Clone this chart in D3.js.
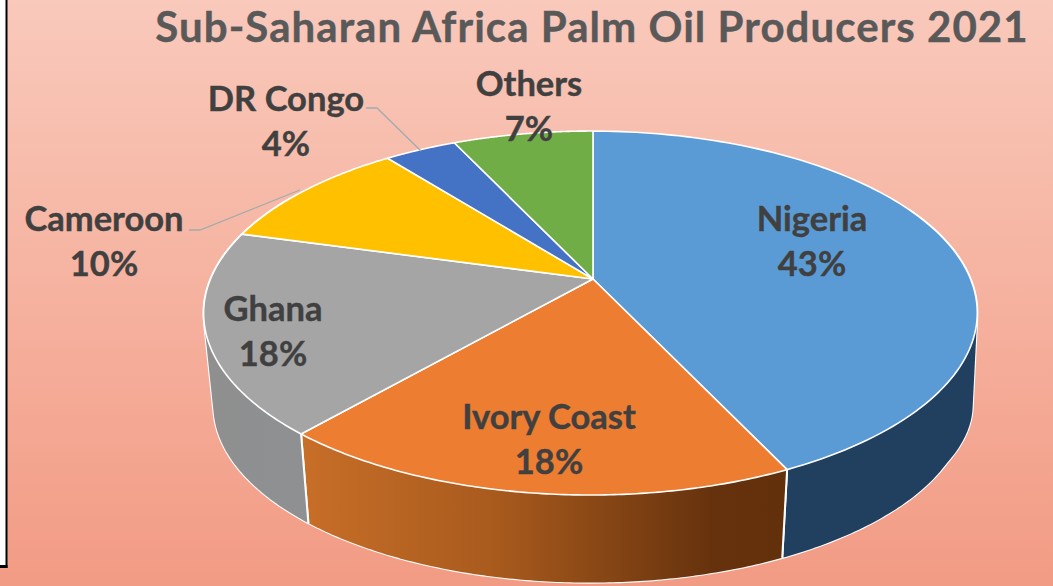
<!DOCTYPE html>
<html>
<head>
<meta charset="utf-8">
<script src="https://cdn.jsdelivr.net/npm/d3@7"></script>
<style>
    html, body { margin: 0; padding: 0; background: #fff; overflow: hidden; }
    text { font-family: Lato, "Open Sans", sans-serif; font-weight: 700; }
</style>
</head>
<body>
<div id="chart"></div>
<script>
// Chart values
const chartTitle = "Sub-Saharan Africa Palm Oil Producers 2021";
const countries = ["Nigeria", "Ivory Coast", "Ghana", "Cameroon", "DR Congo", "Others"];
const shares = [43.0, 18.4, 17.9, 10.1, 3.6, 7.0];
const shareLabels = ["43%", "18%", "18%", "10%", "4%", "7%"];
const topColors = ["#5b9bd5", "#ed7d31", "#a5a5a5", "#ffc000", "#4472c4", "#70ad47"];

const width = 1053;
const height = 586;

// Label layout, same order as countries
const labelX = [812, 549, 273, 104, 286, 529];
const labelY = [219, 417, 309, 219, 99, 84];

// Perspective of the pie: k squeezes the far side, m leans it a little left
const k = 0.187;
const m = -0.0065;
const apex = { x: 593, y: 279 };
const rx = 380, ry = 175.6;
const wallScale = 0.975;
const wallApexY = 372;

let svg = d3.select("#chart")
    .append("svg")
    .attr("width", width)
    .attr("height", height)
    .style("display", "block");

let defs = svg.append("defs");

let bgGrad = defs.append("linearGradient")
    .attr("id", "bg")
    .attr("x1", 0).attr("y1", 0).attr("x2", 0).attr("y2", 1);
bgGrad.append("stop").attr("offset", 0).attr("stop-color", "#f9c9bb");
bgGrad.append("stop").attr("offset", 1).attr("stop-color", "#f29b84");

// Orange wall goes from lit to dark
let orangeGrad = defs.append("linearGradient")
    .attr("id", "wallOrange")
    .attr("gradientUnits", "userSpaceOnUse")
    .attr("x1", 305).attr("y1", 0).attr("x2", 785).attr("y2", 0);
orangeGrad.append("stop").attr("offset", 0).attr("stop-color", "#c76e28");
orangeGrad.append("stop").attr("offset", 0.4).attr("stop-color", "#a85a1d");
orangeGrad.append("stop").attr("offset", 0.85).attr("stop-color", "#66320d");
orangeGrad.append("stop").attr("offset", 1).attr("stop-color", "#63300c");

let greyGrad = defs.append("linearGradient")
    .attr("id", "wallGrey")
    .attr("gradientUnits", "userSpaceOnUse")
    .attr("x1", 205).attr("y1", 0).attr("x2", 305).attr("y2", 0);
greyGrad.append("stop").attr("offset", 0).attr("stop-color", "#8f8f8f");
greyGrad.append("stop").attr("offset", 1).attr("stop-color", "#8e9092");

svg.append("rect")
    .attr("width", width)
    .attr("height", height)
    .attr("fill", "url(#bg)");

// White strip and black frame on the left
svg.append("rect").attr("x", 0).attr("y", 0).attr("width", 6).attr("height", 565).attr("fill", "#fff");
svg.append("rect").attr("x", 5.5).attr("y", 0).attr("width", 2).attr("height", 568).attr("fill", "#000");
svg.append("rect").attr("x", 0).attr("y", 565).attr("width", 7.5).attr("height", 3).attr("fill", "#000");

// Scales from the perspective plane to pixels
let x = d3.scaleLinear().domain([-1, 1]).range([apex.x - rx, apex.x + rx]);
let y = d3.scaleLinear().domain([-1, 1]).range([apex.y - ry, apex.y + ry]);

function rimTop(a) {
    let u = Math.sin(a), v = -Math.cos(a);
    let d = 1 - k * v - m * u;
    return [x(u / d), y(v / d)];
}

function rimBottom(a) {
    let p = rimTop(a);
    let v = -Math.cos(a);
    // The right shoulder of the wall bulges out a little in the picture
    let bulge = Math.sin(a) > 0 ? 0.013 * Math.max(0, 1 - Math.pow((v - k) / 0.3, 2)) : 0;
    let s = wallScale + bulge;
    return [apex.x + s * (p[0] - apex.x), wallApexY + wallScale * (p[1] - apex.y)];
}

function arcPoints(rim, a0, a1) {
    return d3.range(0, 121).map(i => rim(a0 + (a1 - a0) * i / 120));
}

let line = d3.line();
let pie = d3.pie().sort(null).value(d => d);
let slices = pie(shares);

function rad(deg) { return deg * Math.PI / 180; }

// Walls first, only the front facing part of the rim
const wallStart = rad(65);
const wallEnd = rad(300);
const wallFills = ["#213f5e", "url(#wallOrange)", "url(#wallGrey)", "#b38600", "#2f5089", "#4f7a32"];

let walls = svg.append("g");

// White outline of the whole wall, sits behind the fills
let wallOutline = arcPoints(rimTop, wallStart, wallEnd).concat(arcPoints(rimBottom, wallStart, wallEnd));
walls.append("path")
    .attr("d", line(d3.polygonHull(wallOutline)) + "Z")
    .attr("fill", "none")
    .attr("stroke", "#fff")
    .attr("stroke-width", 2.2);

slices.forEach(function(s, i) {
    let a0 = Math.max(s.startAngle, wallStart);
    let a1 = Math.min(s.endAngle, wallEnd);
    if (a1 <= a0) return;
    // Hull so the straight side of the cylinder is filled too, the top face hides the rest
    let pts = arcPoints(rimTop, a0, a1).concat(arcPoints(rimBottom, a0, a1));
    walls.append("path")
        .attr("d", line(d3.polygonHull(pts)) + "Z")
        .attr("fill", wallFills[i]);
    // White seams between slices
    [a0, a1].forEach(function(a) {
        if (a === wallStart || a === wallEnd) return;
        walls.append("path")
            .attr("d", line([rimTop(a), rimBottom(a)]))
            .attr("stroke", "#fff")
            .attr("stroke-width", 2);
    });
});

// Top face of the pie
let tops = svg.append("g");
tops.selectAll("path")
    .data(slices)
    .enter()
    .append("path")
    .attr("d", d => line([[apex.x, apex.y]].concat(arcPoints(rimTop, d.startAngle, d.endAngle))) + "Z")
    .attr("fill", (d, i) => topColors[i])
    .attr("stroke", "#fff")
    .attr("stroke-width", 1.6)
    .attr("stroke-linejoin", "round");

// Leader lines
let leaders = [
    [[189, 230], [200, 230], [300, 190]],
    [[366, 108], [377, 108], [421, 151]]
];
svg.append("g").selectAll("path")
    .data(leaders)
    .enter()
    .append("path")
    .attr("d", d => line(d))
    .attr("fill", "none")
    .attr("stroke", "#a3abad")
    .attr("stroke-width", 1.3);

// Title
svg.append("text")
    .attr("x", 592)
    .attr("y", 42)
    .style("text-anchor", "middle")
    .style("font-size", "42px")
    .style("letter-spacing", "1.05px")
    .attr("fill", "#595959")
    .attr("stroke", "#595959")
    .attr("stroke-width", 0.4)
    .text(chartTitle);

// Data labels
let labels = svg.append("g")
    .selectAll("g")
    .data(countries)
    .enter()
    .append("g")
    .attr("transform", (d, i) => `translate(${labelX[i]}, ${labelY[i]})`)
    .style("text-anchor", "middle")
    .style("font-size", "34.5px")
    .attr("fill", "#404040")
    .attr("stroke", "#404040")
    .attr("stroke-width", 0.4);

labels.append("text").attr("y", 12).text(d => d);
labels.append("text").attr("y", 57).text((d, i) => shareLabels[i]);
</script>
</body>
</html>
